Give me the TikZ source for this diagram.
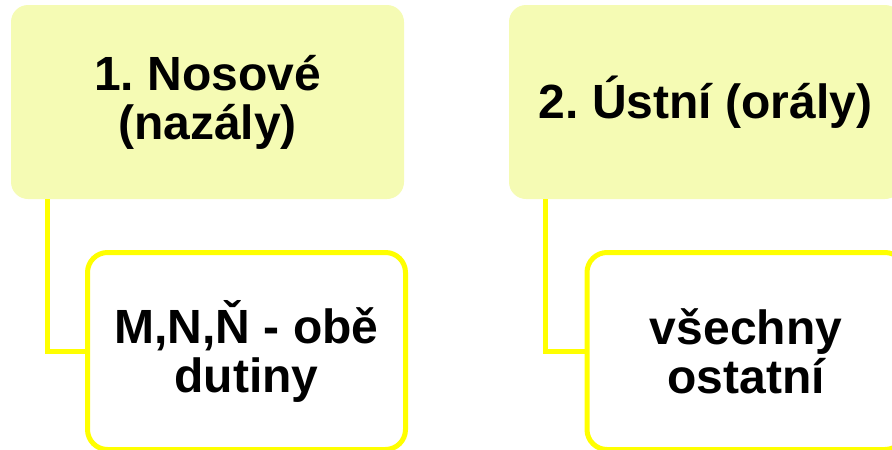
\documentclass[tikz,border=0pt]{standalone}
\usepackage{fontspec}
\setmainfont{Liberation Sans}
\frenchspacing
\definecolor{palelime}{RGB}{245,251,180}
\definecolor{linkyellow}{RGB}{255,255,0}
\tikzset{
  headbox/.style={rectangle, rounded corners=17pt, fill=palelime, align=center, inner sep=0pt,
    minimum width=393pt, minimum height=194pt, font=\fontsize{48}{49}\selectfont\bfseries},
  subbox/.style={rectangle, rounded corners=20pt, draw=linkyellow, line width=5pt, fill=white, align=center, inner sep=0pt,
    minimum width=318pt, minimum height=197pt, font=\fontsize{48}{49}\selectfont\bfseries},
  link/.style={draw=linkyellow, line width=5pt}
}
\begin{document}
\begin{tikzpicture}[x=1pt, y=-1pt]

  \path[use as bounding box, clip] (0,0) rectangle (892,450);

  % LEFT
  \node [headbox] (nasal) at (207.5,102) {1. Nosové\\(nazály)};
  \node [subbox] (nasalex) at (246.5,351) {M,N,Ň - obě\\dutiny};
  \draw [link] ([xshift=37pt]nasal.south west) |- (nasalex.west);

  % RIGHT
  \node [headbox] (oral) at (705.5,102) {2. Ústní (orály)};
  \node [subbox] (oralex) at (746,351) {všechny\\ostatní};
  \draw [link] ([xshift=37pt]oral.south west) |- (oralex.west);

\end{tikzpicture}
\end{document}
